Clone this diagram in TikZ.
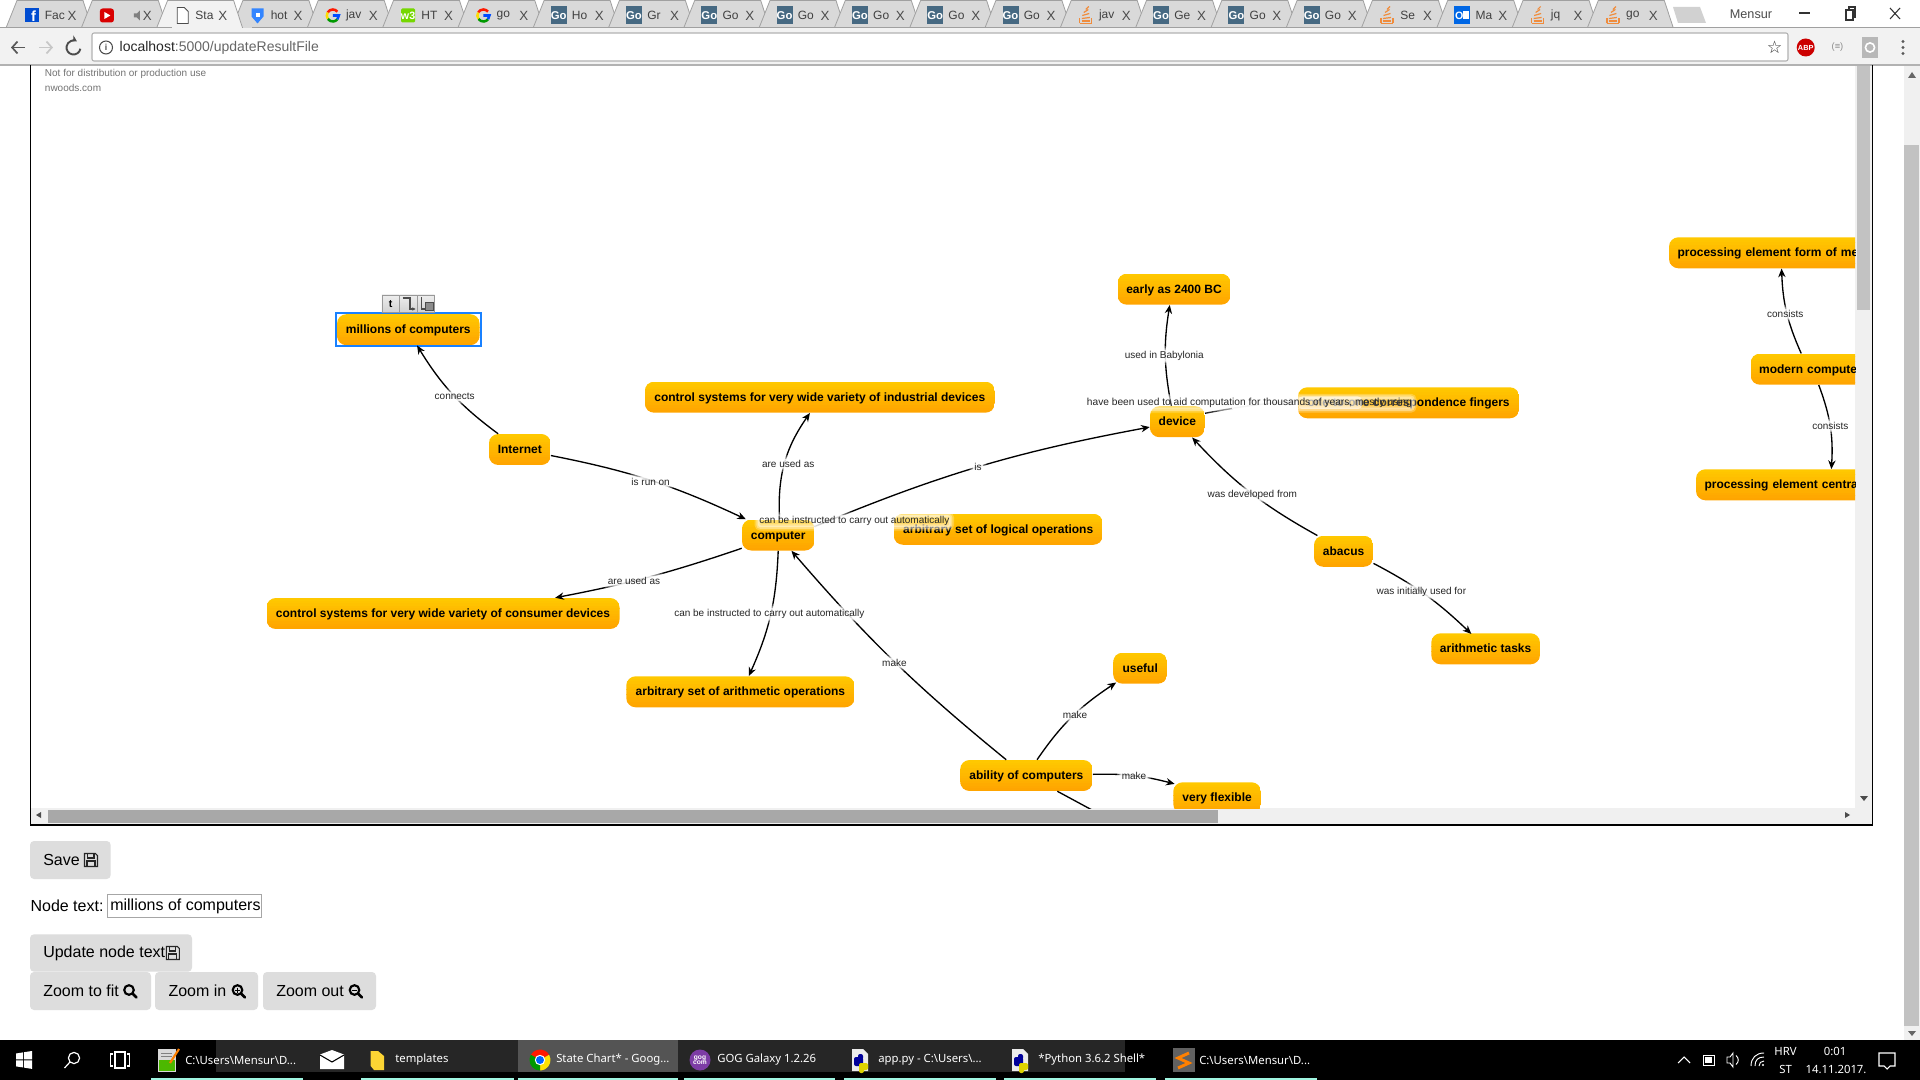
\documentclass[tikz,border=0pt]{standalone}
\usepackage{fontspec}
\setmainfont{Liberation Sans}
\newfontfamily\uifont{Noto Sans}
\newfontfamily\symfont{DejaVu Sans}
\usetikzlibrary{arrows.meta,calc}
\definecolor{cTop}{RGB}{255,200,0}
\definecolor{cBot}{RGB}{255,165,0}
\definecolor{tabFill}{RGB}{217,217,217}
\definecolor{barFill}{RGB}{242,242,242}
\definecolor{tabEdge}{RGB}{160,160,160}
\definecolor{btnFill}{RGB}{221,221,221}
\definecolor{goBlue}{RGB}{70,105,130}
\definecolor{soOrange}{RGB}{240,140,60}
\definecolor{tealBar}{RGB}{160,245,225}
\definecolor{gogPurple}{RGB}{125,60,165}
\newcommand\pxf[1]{\fontsize{#1}{#1}\selectfont}
\newcommand\icFb{\fill[blue!40!black!50!cyan!60!blue] (-7,-7) rectangle (7,7);\node[font=\bfseries\pxf{11},text=white,inner sep=0] (fbf) at (2,1) {f};}
\newcommand\icYt{\fill[red!85!black,rounded corners=2pt] (-7,-7) rectangle (7,7);\fill[white] (-2.5,-3.5) -- (3.5,0) -- (-2.5,3.5) -- cycle;\fill[gray] (27,-2) -- (30,-2) -- (33,-5) -- (33,5) -- (30,2) -- (27,2) -- cycle;}
\newcommand\icDoc{\draw[black!70,fill=white,line width=.6pt] (-5,-8) -- (2,-8) -- (6,-4) -- (6,8) -- (-5,8) -- cycle;}
\newcommand\icSh{\fill[blue!60!cyan!80!white] (-6,-7) -- (6,-7) -- (6,1) -- (0,8) -- (-6,1) -- cycle;\fill[white] (-2,-2) rectangle (2,2);}
\newcommand\icG{\begin{scope}[line width=1.9pt]\draw[red!80!orange] (-150:6) arc (-150:-40:6);\draw[yellow!80!orange] (-150:6) arc (-150:-215:6);\draw[green!60!black] (145:6) arc (145:40:6);\draw[blue!70!cyan] (40:6) arc (40:0:6) -- (0,0);\end{scope}}
\newcommand\icWt{\fill[green!55!olive!70!yellow,rounded corners=1pt] (-7,-7) rectangle (7,7);\node[font=\bfseries\pxf{8},text=white,inner sep=0] (wth) at (0,0) {w3};}
\newcommand\icGo{\fill[goBlue] (-8,-9) rectangle (8,9);\node[font=\bfseries\pxf{8.5},text=white,inner sep=0] (gol) at (0,0) {Go};}
\newcommand\icSo{\begin{scope}[soOrange,line width=.9pt]\draw (-6,8) -- (-6,3);\draw (6,8) -- (6,3);\draw (-6,8) -- (6,8);\draw (-4,5.5) -- (4,5.5);\draw (-4,3) -- (4,2);\draw (-3.5,0) -- (3.5,-2);\draw (-2,-3) -- (2.5,-6);\draw (0,-6) -- (3,-9);\end{scope}}
\newcommand\icOl{\fill[blue!55!cyan!90!black] (-8,-9) rectangle (8,9);\fill[white] (1,-4) rectangle (7,4);\node[font=\bfseries\pxf{8},text=white,inner sep=0] (oll) at (-3,0) {O};}
\newcommand\floppy{\draw[black!85,line width=.8pt,fill=btnFill] (-6.5,-6.5) -- (4.5,-6.5) -- (6.5,-4.5) -- (6.5,6.5) -- (-6.5,6.5) -- cycle;\draw[black!85,line width=.8pt] (-3.5,-6.5) rectangle (3,-2);\draw[black!85,line width=.8pt] (-4,6.5) -- (-4,1) -- (4,1) -- (4,6.5);}
\newcommand\lensicon{\draw[black,line width=1.6pt] (-1,-1) circle (4.8);\draw[black,line width=2pt,line cap=round] (2.8,2.8) -- (6.5,6.5);}
\newcommand\pyicon[1]{\fill[white!92!black] (#1-8,1049) -- (#1+3,1049) -- (#1+8,1054) -- (#1+8,1071) -- (#1-8,1071) -- cycle;
 \fill[blue!60!black,rounded corners=1.5pt] (#1-6,1057) rectangle (#1+3,1066);\fill[blue!60!black,rounded corners=1.5pt] (#1-2,1054) rectangle (#1+3,1060);
 \fill[yellow!70!olive,rounded corners=1.5pt] (#1-1,1063) rectangle (#1+8,1070);\fill[yellow!70!olive,rounded corners=1.5pt] (#1-1,1067) rectangle (#1+4,1073);}
\tikzset{
 cnode/.style={rectangle,rounded corners=7pt,font=\bfseries\pxf{9},minimum height=23.25pt,inner sep=0pt,text height=7.6pt,text depth=1.5pt,text=black,
   path picture={\foreach \k in {0,...,11}{
     \pgfmathsetmacro\mixv{100*\k/11}
     \pgfmathsetmacro\kup{\k/12}
     \pgfmathsetmacro\kdn{(\k+1.15)/12}
     \fill[cBot!\mixv!cTop,sharp corners]
       ($(path picture bounding box.north west)!\kup!(path picture bounding box.south west)$)
       rectangle
       ($(path picture bounding box.north east)!\kdn!(path picture bounding box.south east)$);
   }}},
 pxw/.style={minimum width=#1*0.75pt},
 cut/.style={text width=#1*0.75pt-12.75pt,align=left,minimum width=#1*0.75pt,inner xsep=6.375pt},
 link/.style={line width=1pt,black,-{Stealth[length=6.5pt,width=5.5pt]}},
 plain/.style={line width=1pt,black},
 elab/.style={font=\pxf{7.5},text=black!85,inner sep=1pt,rounded corners=2pt,yshift=-.4pt,
   preaction={draw=white,draw opacity=.25,line width=5pt},
   preaction={draw=white,draw opacity=.35,line width=2.5pt},
   preaction={fill=white,fill opacity=#1}},
 elab/.default=.8,
 txt/.style={inner sep=0pt,anchor=west},
 pbtn/.style={fill=btnFill,rounded corners=3pt},
 tabtxt/.style={inner sep=0pt,anchor=west,font=\pxf{9},text=black!75},
 barlab/.style={inner sep=0pt,anchor=west,font=\uifont\pxf{8.5},text=white},
 traylab/.style={font=\uifont\pxf{8.5},text=white,inner sep=0pt},
 adorn/.style={rectangle,draw=black!40,top color=white!93!black,bottom color=black!18,inner sep=0pt,minimum width=13pt,minimum height=13.2pt},
}
\begin{document}
\begin{tikzpicture}[x=0.75pt,y=-0.75pt]
\useasboundingbox (0,0) rectangle (1920,1080);
\fill[white] (0,0) rectangle (1920,1080);
% ---------- tabs
\foreach \i/\ic/\tl in {0/Fb/Fac,1/Yt/{},3/Sh/hot,4/G/jav,5/Wt/HT,6/G/go,7/Go/Ho,8/Go/Gr,9/Go/Go,10/Go/Go,11/Go/Go,12/Go/Go,13/Go/Go,14/So/jav,15/Go/Ge,16/Go/Go,17/Go/Go,18/So/Se,19/Ol/Ma,20/So/jq,21/So/go,2/Doc/Sta}{
 \pgfmathsetmacro\tx{31.6+75.3*\i}
 \ifnum\i=2\def\tf{barFill}\else\def\tf{tabFill}\fi
 \draw[tabEdge,fill=\tf,line width=.6pt] (\tx-25.6,28) -- (\tx-14.6,0.5) -- (\tx+51.4,0.5) -- (\tx+60.4,28);
 \begin{scope}[shift={(\tx,15.5)}]\csname ic\ic\endcsname\end{scope}
 \node[tabtxt] (tab\i) at (\tx+13,15.5) {\tl};
 \node[font=\pxf{10},text=black!70,inner sep=0pt] (tabx\i) at (\tx+40.5,15.5) {X};
}
\draw[tabEdge,line width=.8pt] (0,28) -- (172,28) (252,28) -- (1920,28);
\fill[black!18] (1673,7) -- (1700,7) -- (1706,23) -- (1678,23) -- cycle;
\node[font=\pxf{9.5},text=black!70,inner sep=0pt] (user) at (1751,14) {Mensur};
\draw[black!80,line width=.8pt] (1799,13) -- (1810,13);
\draw[black!80,line width=.8pt] (1846,10) rectangle (1853,20) (1849,10) -- (1849,7) -- (1855,7) -- (1855,17) -- (1853,17);
\draw[black!80,line width=.8pt] (1890,8) -- (1900,19) (1900,8) -- (1890,19);
% ---------- toolbar
\fill[barFill] (0,28.5) rectangle (1920,65);
\draw[black!30,line width=.8pt] (0,65) -- (1920,65);
\draw[black!65,line width=1.3pt,-{Straight Barb[length=4pt,width=9pt]}] (25,47.5) -- (11,47.5);
\draw[black!22,line width=1.3pt,-{Straight Barb[length=4pt,width=9pt]}] (39,47.5) -- (53,47.5);
\draw[black!70,line width=1.4pt,-{Stealth[length=4.5pt,width=5pt]}] (73.5,47.5) ++(10:7) arc (10:300:7);
\draw[black!30,fill=white,rounded corners=1.5pt,line width=.8pt] (92,33) rectangle (1788,61);
\draw[black!70,line width=.8pt] (106,47.5) circle (6.5);
\node[font=\bfseries\pxf{6.5},text=black!70,inner sep=0] (infoi) at (106,47.5) {i};
\node[txt,font=\pxf{10.5}] (url) at (119.4,47.5) {\textcolor{black!85}{localhost}\textcolor{black!60}{:5000/updateResultFile}};
\node[font=\symfont\pxf{13},text=black!80,inner sep=0] (star) at (1774.5,47) {☆};
\fill[red!80!black] (1805.7,47.5) circle (9);
\node[font=\bfseries\pxf{5.5},text=white,inner sep=0] (abp) at (1805.7,47.5) {ABP};
\node[font=\pxf{7},text=black!45,inner sep=0] (rss) at (1837.5,47.5) {(≡)};
\fill[black!28] (1862,37) rectangle (1878,58);
\draw[white,line width=1.2pt] (1870,47.5) circle (4.6);
\foreach \dy in {-6,0,6}{\fill[black!65] (1903,47.5+\dy) circle (1.7);}
% ---------- canvas frame
\draw[black,line width=1.1pt] (30.3,65.5) -- (30.3,825) -- (1872.7,825) -- (1872.7,65.5);
\fill[black!6] (1855,66) rectangle (1872,824);
\fill[black!24] (1857,66) rectangle (1870,310);
\fill[black!6] (31,808) rectangle (1855,824);
\fill[black!34] (48,810) rectangle (1218,823);
\fill[black!70] (36,815) -- (41,812) -- (41,818) -- cycle;
\fill[black!70] (1850,815) -- (1845,812) -- (1845,818) -- cycle;
\fill[black!70] (1864,801) -- (1860,796) -- (1868,796) -- cycle;
% page scrollbar
\fill[black!6] (1904,66) rectangle (1920,1040);
\fill[black!24] (1904,145) rectangle (1919,1026);
\fill[black!60] (1912,72) -- (1908,78) -- (1916,78) -- cycle;
\fill[black!60] (1912,1036) -- (1908,1031) -- (1916,1031) -- cycle;
\node[txt,font=\pxf{7.5},text=black!55] (lic1) at (44.7,73.5) {Not for distribution or production use};
\node[txt,font=\pxf{7.5},text=black!55] (lic2) at (44.7,88) {nwoods.com};
% ---------- diagram
\begin{scope}
\clip (31,66) rectangle (1855,808);
\node[cnode,pxw=142.5] (mil) at (408.3,329.7) {millions of computers};
\node[cnode,pxw=61.7] (inet) at (519.8,449.5) {Internet};
\node[cnode,pxw=350] (ind) at (819.8,397.2) {control systems for very wide variety of industrial devices};
\node[cnode,pxw=72.4] (comp) at (778.2,535) {computer};
\node[cnode,pxw=209] (logic) at (998.2,529.3) {arbitrary set of logical operations};
\node[cnode,pxw=353] (cons) at (443,613.5) {control systems for very wide variety of consumer devices};
\node[cnode,pxw=228.3] (aops) at (740.4,691.8) {arbitrary set of arithmetic operations};
\node[cnode,pxw=113] (early) at (1174,289.2) {early as 2400 BC};
\node[cnode,pxw=54.8] (dev) at (1177.4,421.7) {device};
\node[cnode,pxw=221.3] (fing) at (1408.6,402.8) {one-to-one correspondence fingers};
\node[cnode,pxw=59.2] (aba) at (1343.6,551.3) {abacus};
\node[cnode,pxw=108.7] (tasks) at (1485.6,648.8) {arithmetic tasks};
\node[cnode,pxw=54] (usef) at (1140.2,668.2) {useful};
\node[cnode,pxw=132.4] (abil) at (1026.4,775.5) {ability of computers};
\node[cnode,pxw=87.7] (flex) at (1217.1,797.8) {very flexible};
\node[cnode,cut=236] (form) at (1787,252.8) {processing element form of me};
\node[cnode,cut=118] (modern) at (1809.6,369.2) {modern compute};
\node[cnode,cut=264] (centr) at (1828,484.8) {processing element centra};
% selection adornment
\draw[blue!55!cyan!90!white,line width=1.4pt] (335.7,313) rectangle (481,346);
\node[adorn,font=\bfseries\pxf{8}] (adt) at (390.6,303.8) {t};
\node[adorn] (adl) at (408.3,303.8) {};
\node[adorn] (adb) at (426,303.8) {};
\draw[black!70,line width=.8pt,-{Stealth[length=2.5pt,width=2.5pt]}] (402.5,298) -- (410,298) -- (410,309) -- (415.5,309);
\draw[black!70,line width=.8pt] (421.5,297.5) -- (421.5,309) -- (425,309);
\draw[black!70,fill=black!45,line width=.6pt] (425,302.5) rectangle (433,310);
% connectors
\coordinate (abilOut) at (1105,817);
\draw[link] (inet.144.7) to[bend left=11] (mil.-61.4);
\draw[link] (inet.-11.2) to[bend left=7] (comp.154.7);
\draw[link] (comp.85.3) to[bend left=19] (ind.-122.3);
\draw[link] (comp.13) to[bend left=6] (dev.-169.3);
\draw[link] (comp.-160.2) to[bend left=4] (cons.8.2);
\draw[link] (comp.-90.7) to[bend left=11] (aops.62.9);
\draw[link] (abil.142) to[bend left=5] (comp.-50.2);
\draw[link,shorten >=-2pt] (abil.56.8) to[bend left=11] (usef.-149.3);
\draw[link,shorten >=-1.3pt] (abil.1.5) to[bend left=8] (flex.162.5);
\draw[plain] (abil.-27) -- (abilOut);
\draw[link] (dev.111.3) to[bend left=10] (early.-105.9);
\draw[link] (dev.17) to[bend left=3] (fing.179);
\draw[link] (aba.149.6) to[bend left=9] (dev.-47.5);
\draw[link,shorten >=-1pt] (aba.-22.4) to[bend left=8] (tasks.134.3);
\draw[link] (modern.118.4) to[bend left=11] (form.-109);
\draw[link] (modern.-60) to[bend left=12] (centr.78);
% soft fade behind the two long labels
\fill[white,opacity=.92] (1232,396) rectangle (1298,409.5);
\fill[white,opacity=.55,rounded corners=3pt] (1298,396.5) rectangle (1362,409);
\fill[white,opacity=.6] (815,515) rectangle (893,527);
% connector labels
\node[elab] (l1) at (454.7,396) {connects};
\node[elab] (l2) at (650.6,481) {is run on};
\node[elab] (l3) at (788.2,463) {are used as};
\node[elab] (l4) at (978,466.7) {is};
\node[elab=.4] (l5) at (854.3,520.7) {can be instructed to carry out automatically};
\node[elab] (l6) at (634,580) {are used as};
\node[elab] (l7) at (769.3,613) {can be instructed to carry out automatically};
\node[elab] (l8) at (894.4,662) {make};
\node[elab] (l9) at (1075,714) {make};
\node[elab] (l10) at (1134,775.7) {make};
\node[elab] (l11) at (1164.3,355) {used in Babylonia};
\node[elab=.25,font=\pxf{7.65}] (l12) at (1249.4,402.7) {have been used to aid computation for thousands of years, mostly using};
\node[elab] (l13) at (1252.3,494) {was developed from};
\node[elab] (l14) at (1421.4,591) {was initially used for};
\node[elab] (l15) at (1785.2,313) {consists};
\node[elab] (l16) at (1830.4,425) {consists};
\end{scope}
% ---------- page controls
\fill[pbtn] (30,841) rectangle (110.7,879);
\node[txt,font=\pxf{12}] (bsave) at (43,860) {Save};
\begin{scope}[shift={(91,860)}]\floppy\end{scope}
\node[txt,font=\pxf{12}] (ntl) at (30.3,906) {Node text:};
\draw[black!35,fill=white,line width=.8pt] (107.3,894.3) rectangle (261.7,917.7);
\node[txt,font=\pxf{12}] (ntv) at (110,906) {millions of computers};
\fill[pbtn] (30,934.3) rectangle (192,971.7);
\node[txt,font=\pxf{12}] (bupd) at (43,953) {Update node text};
\begin{scope}[shift={(172.8,953)}]\floppy\end{scope}
\fill[pbtn] (30,972) rectangle (151,1010);
\node[txt,font=\pxf{12}] (bfit) at (43,991) {Zoom to fit};
\begin{scope}[shift={(130,991)}]\lensicon\end{scope}
\fill[pbtn] (155,972) rectangle (258,1010);
\node[txt,font=\pxf{12}] (bin) at (168.3,991) {Zoom in};
\begin{scope}[shift={(238.5,991)}]\lensicon\draw[black,line width=.7pt] (-3.5,-1) -- (1.5,-1) (-1,-3.5) -- (-1,1.5);\end{scope}
\fill[pbtn] (263,972) rectangle (376,1010);
\node[txt,font=\pxf{12}] (bout) at (276,991) {Zoom out};
\begin{scope}[shift={(355.5,991)}]\lensicon\draw[black,line width=.7pt] (-3.5,-1) -- (1.5,-1);\end{scope}
% ---------- taskbar
\fill[black] (0,1040) rectangle (1920,1080);
\fill[black!85] (216,1040) rectangle (1125,1072);
\fill[black!67] (518,1040) rectangle (678,1072);
\foreach \a/\b in {151/303,361/514,518/678,683.7/835,844/996,1004/1156,1165/1317}{\fill[tealBar] (\a,1077.7) rectangle (\b,1080);}
% windows logo
\fill[white] (16,1053.5) -- (23,1052.4) -- (23,1059.4) -- (16,1059.4) -- cycle;
\fill[white] (24,1052.2) -- (32,1051) -- (32,1059.4) -- (24,1059.4) -- cycle;
\fill[white] (16,1060.4) -- (23,1060.4) -- (23,1067.4) -- (16,1066.4) -- cycle;
\fill[white] (24,1060.4) -- (32,1060.4) -- (32,1068.9) -- (24,1067.6) -- cycle;
\draw[white,line width=.9pt] (74,1058) circle (5.6) (70,1062) -- (64.5,1068);
\draw[white,line width=.9pt] (115,1052) rectangle (125,1068) (113,1054) -- (110.5,1054) -- (110.5,1066) -- (113,1066) (127,1054) -- (129.5,1054) -- (129.5,1066) -- (127,1066);
% notepad icon
\fill[white!85!black] (158,1049) rectangle (176,1072);
\fill[green!60!black!70!yellow] (159,1060) rectangle (175,1071);
\foreach \yy in {1053,1056}{\draw[black!50,line width=.5pt] (161,\yy) -- (172,\yy);}
\draw[orange,line width=1.6pt] (170,1063) -- (179,1049);
\node[barlab] (t1) at (185,1060) {C:\textbackslash Users\textbackslash Mensur\textbackslash D...};
\fill[white] (320,1054.5) -- (332,1050) -- (344,1054.5) -- (344,1069) -- (320,1069) -- cycle;
\draw[black,line width=.8pt] (320,1055) -- (332,1062) -- (344,1055);
\fill[yellow!65!orange!80!white] (370.7,1051) -- (378,1051) -- (384,1056) -- (384,1070) -- (374,1070) -- (370.7,1066) -- cycle;
\node[barlab] (t2) at (395,1060) {templates};
% chrome icon
\fill[red!80!orange] (540,1060) -- ++(-150:10.5) arc (-150:-30:10.5) -- cycle;
\fill[yellow!85!orange] (540,1060) -- ++(-30:10.5) arc (-30:90:10.5) -- cycle;
\fill[green!60!black] (540,1060) -- ++(90:10.5) arc (90:210:10.5) -- cycle;
\fill[white] (540,1060) circle (5.2);
\fill[blue!60!cyan] (540,1060) circle (4);
\node[barlab] (t3) at (556,1060) {State Chart* - Goog...};
\fill[gogPurple] (700,1060) circle (10.5);
\node[font=\bfseries\pxf{5},text=white,inner sep=0,align=center] (gog) at (700,1060) {gog\\[-1pt]com};
\node[barlab] (t4) at (717,1060) {GOG Galaxy 1.2.26};
\pyicon{860}
\pyicon{1020}
\node[barlab] (t5) at (878,1060) {app.py - C:\textbackslash Users\textbackslash ...};
\node[barlab] (t6) at (1038,1060) {*Python 3.6.2 Shell*};
\fill[black!62] (1173,1048) rectangle (1195,1072);
\draw[orange,line width=2.2pt] (1189,1053) -- (1178,1058) -- (1189,1063) -- (1178,1068);
\node[barlab] (t7) at (1199,1060) {C:\textbackslash Users\textbackslash Mensur\textbackslash D...};
% tray
\draw[white,line width=.8pt] (1678,1063) -- (1684,1057) -- (1690,1063);
\draw[white,line width=.7pt] (1703,1055) rectangle (1714,1065);
\fill[white] (1705,1057) rectangle (1712,1063);
\draw[white,line width=.7pt] (1727,1057) -- (1730,1057) -- (1733,1053) -- (1733,1067) -- (1730,1063) -- (1727,1063) -- cycle;
\draw[white,line width=.7pt] (1736,1055.5) .. controls (1739,1058) and (1739,1062) .. (1736,1064.5);
\draw[white,line width=.7pt] (1751,1066) .. controls (1751,1058) and (1756,1053) .. (1764,1053);
\draw[white,line width=.7pt] (1755,1066) .. controls (1755,1060) and (1758,1057) .. (1764,1057);
\draw[white,line width=.7pt] (1759,1066) .. controls (1759,1063) and (1761,1061) .. (1764,1061);
\fill[white] (1763,1065) circle (1.2);
\node[traylab] (hrv) at (1785.6,1051.7) {HRV};
\node[traylab] (st) at (1785.6,1069) {ST};
\node[traylab] (clock) at (1835,1051.7) {0:01};
\node[traylab] (date) at (1836,1069) {14.11.2017.};
\draw[white,line width=.8pt] (1879,1053) -- (1895,1053) -- (1895,1066) -- (1890,1066) -- (1887,1069) -- (1884,1066) -- (1879,1066) -- cycle;
\end{tikzpicture}
\end{document}
